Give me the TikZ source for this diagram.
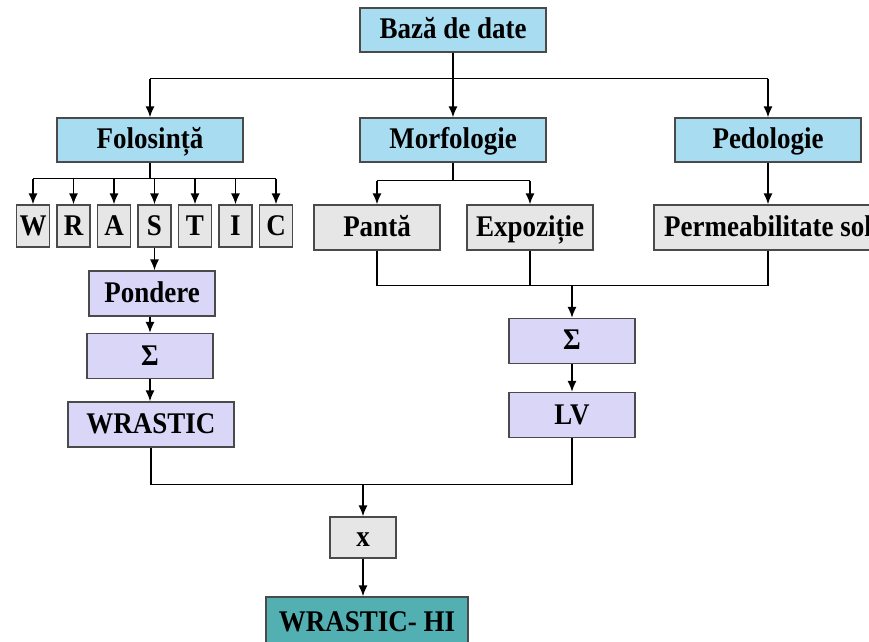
\documentclass[tikz,border=0pt]{standalone}
\usepackage{fontspec}
\setmainfont[FakeStretch=0.9]{Liberation Serif}
\usepackage{tikz}
\usetikzlibrary{arrows.meta}
\usepackage{xcolor}
\definecolor{SkyBox}{HTML}{A8DCF0}
\definecolor{Lilac}{HTML}{DAD6F8}
\definecolor{LightGray}{HTML}{E6E6E6}
\definecolor{TealBox}{HTML}{52B0B2}
\definecolor{EdgeGray}{HTML}{4A4A4A}

\begin{document}
\begin{tikzpicture}[x=0.5pt,y=-0.5pt,
    font=\fontsize{15}{18}\selectfont\bfseries,
    box/.style={draw=EdgeGray,line width=0.65pt,inner sep=0pt,align=center,
      text height=10.5pt,text depth=1.5pt},
    bluebox/.style={box,fill=SkyBox,minimum width=93pt,minimum height=22pt},
    graybox/.style={box,fill=LightGray,minimum height=22.5pt},
    letterbox/.style={box,fill=LightGray,minimum width=16.5pt,minimum height=21pt},
    lilacbox/.style={box,fill=Lilac,minimum width=63pt,minimum height=22.5pt},
    arr/.style={-{Latex[length=5.5pt,width=4.5pt]},line width=0.7pt},
    ln/.style={line width=0.7pt}]
  \useasboundingbox[fill=white] (0,0) rectangle (869,642);
  % top level
  \node[bluebox] (baza) at (453,30) {Bază de date};
  \node[bluebox] (fol) at (150,140) {Folosință};
  \node[bluebox] (morf) at (453,140) {Morfologie};
  \node[bluebox] (ped) at (768,140) {Pedologie};
  \draw[ln] (baza.south) -- ++(0,26) coordinate (bs);
  \draw[ln] (fol.north |- bs) -- (ped.north |- bs);
  \draw[arr] (fol.north |- bs) -- (fol.north);
  \draw[arr] (bs) -- (morf.north);
  \draw[arr] (ped.north |- bs) -- (ped.north);
  % WRASTIC letters
  \foreach \l [count=\i from 0] in {W,R,A,S,T,I,C}
    \node[letterbox] (l\l) at ({33+40.5*\i},226) {\l};
  \draw[ln] (fol.south) -- ++(0,16) coordinate (fs);
  \draw[ln] (lW.north |- fs) -- (lC.north |- fs);
  \foreach \l in {W,R,A,S,T,I,C}
    \draw[arr] (l\l.north |- fs) -- (l\l.north);
  % morfologie / pedologie
  \node[graybox,minimum width=63pt] (panta) at (377,227.5) {Pantă};
  \node[graybox,minimum width=63pt] (expo) at (530,227.5) {Expoziție};
  \node[graybox,minimum width=114pt] (perm) at (768,227.5) {Permeabilitate sol};
  \draw[ln] (morf.south) -- ++(0,18) coordinate (ms);
  \draw[ln] (panta.north |- ms) -- (expo.north |- ms);
  \draw[arr] (panta.north |- ms) -- (panta.north);
  \draw[arr] (expo.north |- ms) -- (expo.north);
  \draw[arr] (ped.south) -- (perm.north);
  % left column
  \node[lilacbox] (pond) at (152,293.5) {Pondere};
  \node[lilacbox] (sumA) at (150,356) {Σ};
  \node[lilacbox,minimum width=83pt] (wrastic) at (151,424.5) {WRASTIC};
  \draw[arr] (lS.south) -- (lS.south |- pond.north);
  \draw[arr] (pond.south -| sumA) -- (sumA.north);
  \draw[arr] (sumA.south) -- (sumA.south |- wrastic.north);
  % right column
  \node[lilacbox] (sumB) at (572,341) {Σ};
  \node[lilacbox] (lv) at (572,415) {LV};
  \draw[ln] (panta.south) -- ++(0,35) coordinate (ps);
  \draw[ln] (expo.south) -- (expo.south |- ps);
  \draw[ln] (perm.south) -- (perm.south |- ps);
  \draw[ln] (ps) -- (perm.south |- ps);
  \draw[arr] (sumB.north |- ps) -- (sumB.north);
  \draw[arr] (sumB.south) -- (lv.north);
  % bottom
  \node[graybox,minimum width=33pt,minimum height=20.5pt] (prod) at (363,537.5) {x};
  \node[box,fill=TealBox,minimum width=101pt,minimum height=25pt] (hi) at (367,622) {WRASTIC- HI};
  \draw[ln] (wrastic.south) -- ++(0,37) coordinate (ws);
  \draw[ln] (lv.south) -- (lv.south |- ws);
  \draw[ln] (ws) -- (lv.south |- ws);
  \draw[arr] (prod.north |- ws) -- (prod.north);
  \draw[arr] (prod.south) -- (prod.south |- hi.north);
\end{tikzpicture}
\end{document}
